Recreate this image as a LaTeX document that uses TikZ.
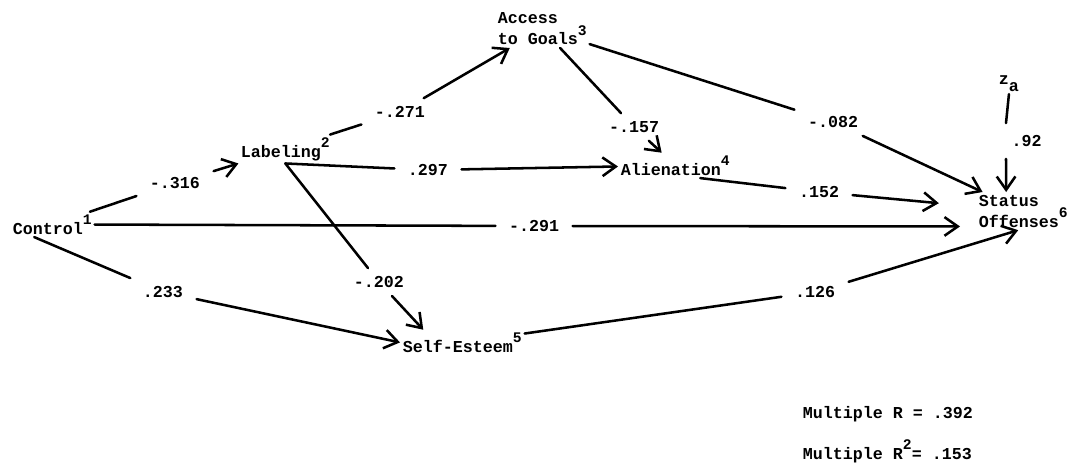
\documentclass[tikz,border=0pt]{standalone}
\usepackage{fontspec}
\setmonofont{Liberation Mono}
\usetikzlibrary{arrows.meta}
\newcommand\tw{\ttfamily\bfseries\fontsize{12.5}{14.5}\selectfont}
\newcommand\mysup[1]{\raisebox{1.1ex}{\fontsize{11}{11}\selectfont #1}}
\begin{document}
\begin{tikzpicture}[x=0.75pt,y=-0.75pt,
  every node/.style={font=\tw, text=black},
  var/.style={inner sep=2pt, anchor=base west},
  multi/.style={inner sep=2pt, anchor=north west, align=left},
  coef/.style={inner xsep=10pt, inner ysep=6pt},
  link/.style={line width=1.9pt, line cap=round},
  arr/.style={link, -{Straight Barb[length=10pt,width=14pt,line width=1.9pt]}}]
\useasboundingbox (0,0) rectangle (1079,465);
% variables
\node[var] (ctl) at (10,234) {Control\mysup{1}};
\node[var] (lab) at (238,157) {Labeling\mysup{2}};
\node[multi] (acc) at (495,10) {Access\\to Goals\mysup{3}};
\node[var] (ali) at (618,175) {Alienation\mysup{4}};
\node[var] (se) at (400,352) {Self-Esteem\mysup{5}};
\node[multi] (st) at (976,192) {Status\\Offenses\mysup{6}};
\node[var] (za) at (996,84) {z\raisebox{-0.8ex}{a}};
% coefficients
\node[coef] (l316) at (175,183) {-.316};
\node[coef] (l271) at (400,112) {-.271};
\node[coef] (l297) at (428,170) {.297};
\node[coef] (l202) at (379,282) {-.202};
\node[coef] (l233) at (163,292) {.233};
\node[coef] (l291) at (534,226) {-.291};
\node[coef] (l157) at (634,127) {-.157};
\node[coef] (l082) at (833,122) {-.082};
\node[coef] (l152) at (819,192) {.152};
\node[coef] (l126) at (815,292) {.126};
\node[anchor=west, inner xsep=4pt, inner ysep=9pt] (l92) at (1006,141) {.92};
% paths
\draw[link] (ctl) -- (l316); \draw[arr] (l316) -- (lab);
\draw[link] (lab) -- (l271); \draw[arr] (l271) -- (acc);
\draw[link] (lab.south) -- (l297); \draw[arr] (l297) -- (ali);
\draw[link] (lab.south) -- (l202); \draw[arr] (l202) -- (se.162);
\draw[link] (ctl.215) -- (l233); \draw[arr] (l233) -- (se.west);
\draw[link] (ctl) -- (l291); \draw[arr, shorten >=12pt] (l291) -- (st.198);
\draw[link] (acc) -- (l157); \draw[arr] (l157) -- (ali);
\draw[link] (acc) -- (l082); \draw[arr] (l082) -- (st);
\draw[link] (ali.333) -- (l152); \draw[arr, shorten >=28pt] (l152) -- (st);
\draw[link] (se) -- (l126); \draw[arr] (l126) -- (st.255);
\draw[link] (za.south) -- (l92.north west); \draw[arr] (l92.south west) -- (st.132);
% fit statistics
\node[var] (mr) at (800,418) {Multiple R = .392};
\node[var] (mr2) at (800,459) {Multiple R\mysup{2}= .153};
\end{tikzpicture}
\end{document}
